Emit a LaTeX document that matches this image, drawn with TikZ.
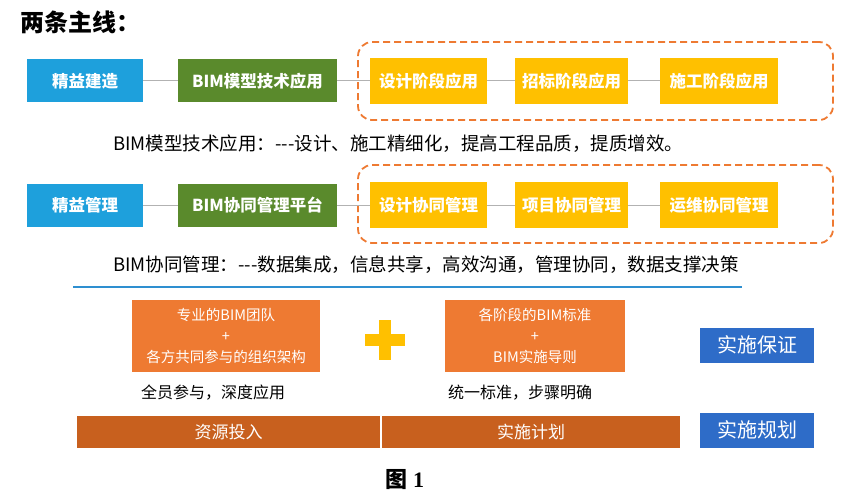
\documentclass[tikz,border=0pt]{standalone}
\usepackage{fontspec}
\setmainfont{Noto Sans CJK SC}
\newfontfamily\serifl{Liberation Serif}
\begin{document}
\begin{tikzpicture}[x=1pt,y=-1pt,
  bx/.style={minimum height=43pt,inner sep=0pt,text=white,font=\fontsize{16.5}{18}\selectfont\bfseries},
  bluebox/.style={bx,fill=blue1},
  greenbox/.style={bx,fill=green1},
  yelbox/.style={bx,fill=yel1,minimum height=46pt},
  orbox/.style={fill=or1,text=white,font=\fontsize{14.5}{21}\selectfont,align=center,inner sep=0pt},
  barbox/.style={fill=or2,text=white,font=\fontsize{17}{19}\selectfont,inner sep=0pt,minimum height=32pt},
  sbox/.style={fill=blue2,text=white,font=\fontsize{20}{22}\selectfont,inner sep=0pt,minimum height=35pt,minimum width=114pt},
  conn/.style={draw=gray!60,line width=1pt},
  dbox/.style={draw=or1,dash pattern=on 7pt off 4pt,line width=1.8pt,rounded corners=14pt},
  txt/.style={font=\fontsize{18.5}{20}\selectfont,anchor=west,inner sep=0pt}]
\definecolor{blue1}{HTML}{1EA0DC}
\definecolor{green1}{HTML}{5A8A2C}
\definecolor{yel1}{HTML}{FFC000}
\definecolor{or1}{HTML}{EE7A32}
\definecolor{or2}{HTML}{C8601E}
\definecolor{blue2}{HTML}{2E6CC8}
\definecolor{line1}{HTML}{2E8FD0}
\useasboundingbox (0,0) rectangle (851,500);
\node[anchor=west,inner sep=0pt,font=\fontsize{24}{26}\selectfont\bfseries] (title) at (20,22) {两条主线：};
% row 1
\node[dbox,minimum width=475pt,minimum height=78pt] (d1) at (595.5,81) {};
\node[bluebox,minimum width=116pt] (a1) at (85,81) {精益建造};
\node[greenbox,minimum width=159pt] (b1) at (257.5,81) {BIM模型技术应用};
\node[yelbox,minimum width=117pt] (c1) at (428.5,81) {设计阶段应用};
\node[yelbox,minimum width=113pt] (c2) at (571.5,81) {招标阶段应用};
\node[yelbox,minimum width=118pt] (c3) at (719,81) {施工阶段应用};
\draw[conn] (a1) -- (b1); \draw[conn] (b1) -- (c1); \draw[conn] (c1) -- (c2); \draw[conn] (c2) -- (c3);
\node[txt] (t1) at (113,144) {BIM模型技术应用：-{}-{}-设计、施工精细化，提高工程品质，提质增效。};
% row 2
\node[dbox,minimum width=475pt,minimum height=78pt] (d2) at (595.5,204) {};
\node[bluebox,minimum width=116pt] (a2) at (85,205) {精益管理};
\node[greenbox,minimum width=159pt] (b2) at (257.5,205) {BIM协同管理平台};
\node[yelbox,minimum width=117pt] (e1) at (428.5,205) {设计协同管理};
\node[yelbox,minimum width=113pt] (e2) at (571.5,205) {项目协同管理};
\node[yelbox,minimum width=118pt] (e3) at (719,205) {运维协同管理};
\draw[conn] (a2) -- (b2); \draw[conn] (b2) -- (e1); \draw[conn] (e1) -- (e2); \draw[conn] (e2) -- (e3);
\node[txt] (t2) at (113,265) {BIM协同管理：-{}-{}-数据集成，信息共享，高效沟通，管理协同，数据支撑决策};
\coordinate (l1) at (73,287); \coordinate (l2) at (742,287);
\draw[line1,line width=1.5pt] (l1) -- (l2);
% bottom
\node[orbox,minimum width=188pt,minimum height=72pt] (o1) at (226,336) {专业的BIM团队\\+\\各方共同参与的组织架构};
\node[orbox,minimum width=180pt,minimum height=72pt] (o2) at (535,336) {各阶段的BIM标准\\+\\BIM实施导则};
\node[fill=yel1,minimum width=40pt,minimum height=12pt,inner sep=0pt] (p1) at (385,340) {};
\node[fill=yel1,minimum width=12pt,minimum height=40pt,inner sep=0pt] (p2) at (385,340) {};
\node[sbox] (s1) at (757,345) {实施保证};
\node[font=\fontsize{16}{18}\selectfont] (q1) at (213,393) {全员参与，深度应用};
\node[font=\fontsize{16}{18}\selectfont] (q2) at (520,393) {统一标准，步骤明确};
\node[barbox,minimum width=303pt] (r1) at (228.5,432) {资源投入};
\node[barbox,minimum width=298pt] (r2) at (531,432) {实施计划};
\node[sbox] (s2) at (757,430) {实施规划};
\node[font=\fontsize{22}{24}\selectfont\bfseries] (fig) at (405,480) {图 {\serifl 1}};
\end{tikzpicture}
\end{document}
